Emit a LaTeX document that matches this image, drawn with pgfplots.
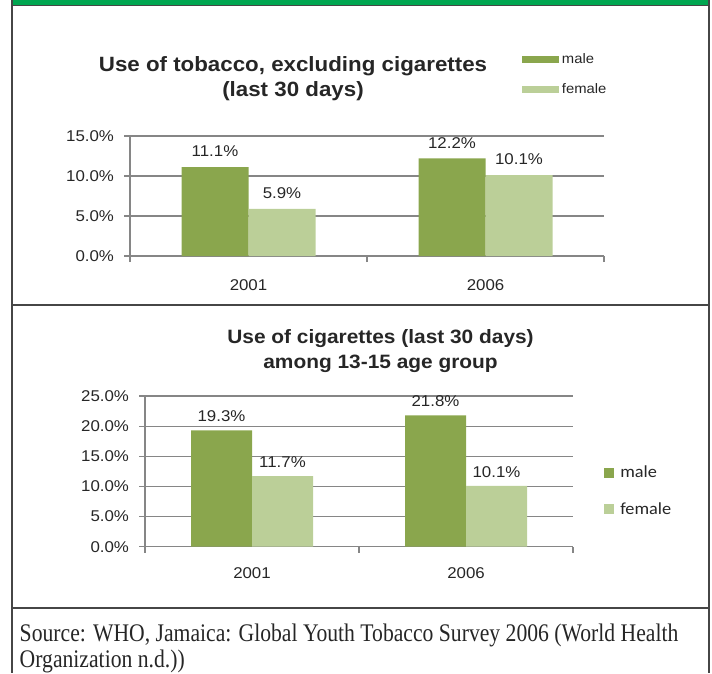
\documentclass[border=0pt]{standalone}
\usepackage{fontspec}
\setmainfont{Liberation Sans}[FakeStretch=1.08]
\newfontfamily\calib{Carlito}[FakeStretch=1.08]
\newfontfamily\srcfont{Liberation Serif}[FakeStretch=0.855]
\usepackage{pgfplots}
\pgfplotsset{compat=1.18}
\definecolor{male}{RGB}{138,166,77}
\definecolor{female}{RGB}{187,207,152}
\definecolor{topgreen}{RGB}{0,166,80}
\definecolor{gridc}{RGB}{134,134,134}
\definecolor{txt}{RGB}{38,38,38}
\definecolor{frame}{RGB}{70,70,70}
\pgfplotsset{
  mybar/.style={
    ybar=0pt,
    scale only axis,
    axis lines=left,
    axis line style={gridc, line width=0.9pt, -},
    ymajorgrids,
    grid style={gridc, line width=0.9pt},
    xmin=-0.5, xmax=1.5, ymin=0,
    xtick={0,1}, xticklabels={2001,2006},
    minor xtick={-0.5,0.5,1.5},
    major x tick style={draw=none},
    major tick length=4.5pt, minor tick length=4.5pt,
    tick align=outside,
    tick style={gridc, line width=0.9pt},
    /pgf/number format/assume math mode=true,
    yticklabel={\pgfmathprintnumber[fixed,fixed zerofill,precision=1]{\tick}\%},
    ticklabel style={font=\fontsize{11.7pt}{13pt}\selectfont, text=txt},
    yticklabel style={anchor=east, xshift=-4pt},
    xticklabel style={anchor=north, yshift=-8pt},
    nodes near coords={\pgfmathprintnumber[fixed,fixed zerofill,precision=1]{\pgfplotspointmeta}\%},
    every node near coord/.append style={font=\fontsize{11.7pt}{13pt}\selectfont, text=txt, anchor=south, inner sep=0pt, yshift=7.5pt},
    clip=false,
    legend cell align=left,
  }
}
\begin{document}
\begin{tikzpicture}
\path[use as bounding box] (0pt,0pt) rectangle (534pt,-504.75pt);
% frame
\fill[topgreen] (9pt,0pt) rectangle (531.75pt,-4.1pt);
\draw[frame, line width=0.8pt] (9pt,-4.1pt) -- (531.75pt,-4.1pt);
\draw[frame, line width=0.8pt] (9pt,0pt) -- (9pt,-504.75pt);
\draw[frame, line width=0.8pt] (531.75pt,0pt) -- (531.75pt,-504.75pt);
\draw[frame, line width=0.8pt] (9pt,-228.75pt) -- (531.75pt,-228.75pt);
\draw[frame, line width=0.8pt] (9pt,-456pt) -- (531.75pt,-456pt);
% titles
\node[anchor=base, inner sep=0pt, text=txt, font=\bfseries\fontsize{15.5pt}{17pt}\selectfont] at (219.75pt,-53.8pt) {Use of tobacco, excluding cigarettes};
\node[anchor=base, inner sep=0pt, text=txt, font=\bfseries\fontsize{15.5pt}{17pt}\selectfont] at (219.75pt,-72.5pt) {(last 30 days)};
\node[anchor=base, inner sep=0pt, text=txt, font=\bfseries\fontsize{14.5pt}{16pt}\selectfont] at (285.4pt,-257.5pt) {Use of cigarettes (last 30 days)};
\node[anchor=base, inner sep=0pt, text=txt, font=\bfseries\fontsize{14.5pt}{16pt}\selectfont] at (285.4pt,-276.2pt) {among 13-15 age group};
% source
\node[anchor=base west, inner sep=0pt, text=txt, font=\srcfont\fontsize{19pt}{21pt}\selectfont] at (14.6pt,-480.75pt) {Source: WHO, Jamaica: Global Youth Tobacco Survey 2006 (World Health};
\node[anchor=base west, inner sep=0pt, text=txt, font=\srcfont\fontsize{19pt}{21pt}\selectfont] at (14.6pt,-500.25pt) {Organization n.d.))};

% chart 1
\begin{axis}[mybar,
  at={(97.5pt,-192pt)}, anchor=south west,
  width=355.5pt, height=90pt,
  ymax=15, ytick={0,5,10,15},
  bar width=50.25pt,
  xticklabel style={yshift=-1.5pt},
  legend image code/.code={\fill[#1] (0pt,-2.6pt) rectangle (27.75pt,2.6pt);},
  legend style={at={(0.827,1.71)}, anchor=north west, draw=none, fill=none, inner sep=0pt,
    font=\fontsize{10.3pt}{12pt}\selectfont, text=txt, row sep=9.5pt},
]
\addplot[fill=male, draw=none] coordinates {(0,11.1) (1,12.2)};
\addplot[fill=female, draw=none] coordinates {(0,5.9) (1,10.1)};
\legend{male,female}
\end{axis}

% chart 2
\begin{axis}[mybar,
  at={(108.75pt,-410pt)}, anchor=south west,
  width=321pt, height=113pt,
  ymax=25, ytick={0,5,10,15,20,25},
  bar width=45.75pt,
  every node near coord/.append style={yshift=-1.5pt},
  legend image code/.code={\fill[#1] (0pt,-3.75pt) rectangle (7.5pt,3.75pt);},
  legend style={at={(1.0724,0.555)}, anchor=north west, draw=none, fill=none, inner sep=0pt,
    font=\calib\fontsize{12.7pt}{14pt}\selectfont, text=txt, row sep=13pt,
    nodes={inner xsep=4.5pt}},
]
\addplot[fill=male, draw=none] coordinates {(0,19.3) (1,21.8)};
\addplot[fill=female, draw=none] coordinates {(0,11.7) (1,10.1)};
\legend{male,female}
\end{axis}
\end{tikzpicture}
\end{document}
